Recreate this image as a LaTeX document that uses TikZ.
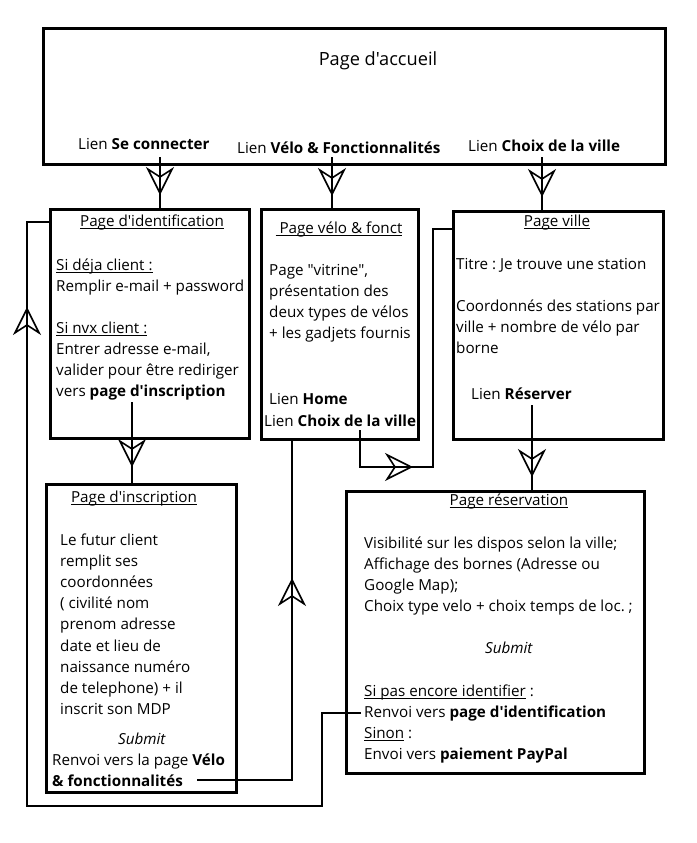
\documentclass[tikz,border=0pt]{standalone}
\usepackage{fontspec}
\newfontfamily\osans{Open Sans}
\usetikzlibrary{arrows.meta,decorations.markings}
\newcommand\uln[1]{\setbox0\hbox{#1}\rlap{\rule[-2.8pt]{\wd0}{0.8pt}}\box0\relax}
\tikzset{oarrow/.tip={Stealth[open,length=28pt,width=28pt,inset=9pt,line width=1.6pt]}}
\frenchspacing
\begin{document}
\frenchspacing
\begin{tikzpicture}[x=1pt,y=-1pt,
  box/.style={draw,line width=3pt,inner sep=0pt,anchor=north west},
  txt/.style={anchor=base west,inner sep=0pt,align=left,font=\osans\frenchspacing\fontsize{15.2}{21.2}\selectfont},
  ctxt/.style={anchor=base,inner sep=0pt,align=center,font=\osans\frenchspacing\fontsize{15.2}{21.2}\selectfont},
  conn/.style={line width=2.3pt},
  tipmark/.style={postaction={decorate},decoration={markings,mark=at position #1 with {\arrow{oarrow}}}}
]
\useasboundingbox (0,0) rectangle (696,843);
\fill[white] (0,0) rectangle (696,843);

% boxes
\node[box,minimum width=622pt,minimum height=136pt] (top) at (42,27) {};
\node[box,minimum width=199pt,minimum height=229pt] (ident) at (49,208) {};
\node[box,minimum width=157pt,minimum height=230pt] (velo) at (260,208) {};
\node[box,minimum width=210pt,minimum height=228pt] (ville) at (452,210) {};
\node[box,minimum width=190pt,minimum height=308pt] (inscr) at (45,483) {};
\node[box,minimum width=298pt,minimum height=282pt] (reserv) at (345,490) {};

% top box texts (base = last line baseline)
\node[ctxt,font=\osans\fontsize{18.2}{21}\selectfont] (tacc) at (378,66) {Page d'accueil};
\node[txt] (tl1) at (78,149) {Lien \textbf{Se connecter}};
\node[txt] (tl2) at (237,153) {Lien \textbf{Vélo \& Fonctionnalités}};
\node[txt] (tl3) at (468,151) {Lien \textbf{Choix de la ville}};

% ident box
\node[ctxt] (it) at (152,226) {\uln{Page d'identification}};
\node[txt] (ib1) at (56,291.2) {\uln{Si déja client :}\\Remplir e-mail + password};
\node[txt] (ib2) at (56,396.6) {\uln{Si nvx client :}\\Entrer adresse e-mail,\\valider pour être rediriger\\vers \textbf{page d'inscription}};

% velo box
\node[ctxt] (vt) at (339,233) {\uln{\ Page vélo \& fonct}};
\node[txt] (vb1) at (269,338.6) {Page "vitrine",\\présentation des\\deux types de vélos\\+ les gadjets fournis};
\node[txt] (vb2) at (269,404) {Lien \textbf{Home}};
\node[txt] (vb3) at (264,426) {Lien \textbf{Choix de la ville}};

% ville box
\node[ctxt] (vlt) at (557,226) {\uln{Page ville}};
\node[txt] (vl1) at (456,269) {Titre : Je trouve une station};
\node[txt] (vl2) at (456,353.4) {Coordonnés des stations par\\ville + nombre de vélo par\\borne};
\node[txt] (vl3) at (471,399) {Lien \textbf{Réserver}};

% inscription box
\node[ctxt] (inst) at (134,502) {\uln{Page d'inscription}};
\node[txt] (ins1) at (60,714.6) {Le futur client\\remplit ses\\coordonnées\\( civilité nom\\prenom adresse\\date et lieu de\\naissance numéro\\de telephone) + il\\inscrit son MDP};
\node[ctxt] (ins2) at (142,744) {\textit{Submit}};
\node[txt] (ins3) at (52,786.2) {Renvoi vers la page \textbf{Vélo}\\\textbf{\& fonctionnalités}};

% reservation box
\node[ctxt] (rt) at (509,505) {\uln{Page réservation}};
\node[txt] (r1) at (364,611.6) {Visibilité sur les dispos selon la ville;\\Affichage des bornes (Adresse ou\\Google Map);\\Choix type velo + choix temps de loc. ;};
\node[ctxt] (r2) at (509,653) {\textit{Submit}};
\node[txt] (r3) at (364,759.6) {\uln{Si pas encore identifier} :\\Renvoi vers \textbf{page d'identification}\\\uln{Sinon} :\\Envoi vers \textbf{paiement PayPal}};

% connectors
\coordinate (s1) at (160,157);
\coordinate (s2) at (332,157);
\coordinate (s3) at (542,157);
\draw[conn,tipmark=38pt] (s1) -- (s1 |- ident.north);
\draw[conn,tipmark=39pt] (s2) -- (s2 |- velo.north);
\draw[conn,tipmark=40pt] (s3) -- (s3 |- ville.north);

\coordinate (s4) at (132,402);
\draw[conn,tipmark=65pt] (s4) -- (s4 |- inscr.north);

\coordinate (s5) at (532,405);
\draw[conn,tipmark=72pt] (s5) -- (s5 |- reserv.north);

\coordinate (s6) at (360,430);
\draw[conn,tipmark=90pt] (s6) -- (360,467) -- (433,467) -- (433,229) -- (ville.west |- 0,229);

\coordinate (s7) at (197,780);
\draw[conn,tipmark=297pt] (s7) -- (292,780) -- (velo.south -| 292,0);

\coordinate (s8) at (361,713);
\draw[conn,tipmark=926pt] (s8) -- (322,713) -- (322,806) -- (27,806) -- (27,222) -- (ident.west |- 0,222);
\end{tikzpicture}
\end{document}
